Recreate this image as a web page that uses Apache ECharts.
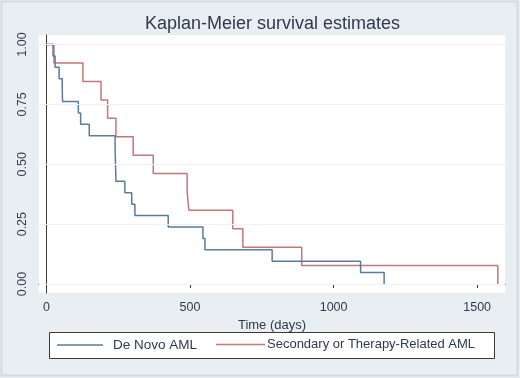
<!DOCTYPE html>
<html>
<head>
<meta charset="utf-8">
<script src="https://cdn.jsdelivr.net/npm/echarts@6/dist/echarts.min.js"></script>
<style>
html,body{margin:0;padding:0;background:#e9eef2;}
#c{width:520px;height:378px;}
</style>
</head>
<body>
<div id="c"></div>
<script>
// Kaplan-Meier step data: time (days) and survival after that time
const deNovoTimes = [0, 23, 30, 44, 55, 56, 111, 119, 149, 239, 240, 241, 242, 273, 297, 308, 424, 545, 552, 786, 1094, 1176];
const deNovoSurv  = [1.0, 0.952, 0.905, 0.857, 0.810, 0.762, 0.714, 0.667, 0.619, 0.571, 0.524, 0.476, 0.429, 0.381, 0.333, 0.286, 0.238, 0.190, 0.143, 0.095, 0.048, 0.0];
const secTimes = [0, 26, 127, 190, 213, 242, 302, 372, 490, 496, 649, 684, 889, 1572];
const secSurv  = [1.0, 0.923, 0.846, 0.769, 0.692, 0.615, 0.538, 0.462, 0.385, 0.308, 0.231, 0.154, 0.077, 0.0];
const xTicks = [0, 500, 1000, 1500];
const yTicks = [0, 0.25, 0.5, 0.75, 1.0];
const seriesNames = ['De Novo AML', 'Secondary or Therapy-Related AML'];
const titleText = 'Kaplan-Meier survival estimates';
const xTitle = 'Time (days)';

const pairs = (t, s) => t.map((v, i) => [v, s[i]]);
const font = 'Liberation Sans, Arial, sans-serif';
const textColor = '#2e3a4e';
const chart = echarts.init(document.getElementById('c'), null, {renderer: 'canvas'});
chart.setOption({
  backgroundColor: '#e9eef2',
  animation: false,
  title: {
    text: titleText, left: 145, top: 15, padding: 0,
    textStyle: {fontFamily: font, fontSize: 18, fontWeight: 'normal', color: textColor}
  },
  graphic: [
    {type: 'rect', shape: {x: 1.5, y: 1.5, width: 516, height: 374}, style: {fill: 'none', stroke: '#d3dbe2', lineWidth: 2}, silent: true},
    {type: 'rect', shape: {x: 49.5, y: 332.5, width: 445, height: 26}, style: {fill: '#ffffff', stroke: '#3a3a3a', lineWidth: 1}, silent: true, z: 0}
  ],
  legend: [
    {
      data: [seriesNames[0]], left: 57, top: 338, padding: 0,
      itemWidth: 46, itemHeight: 1.5, icon: 'rect',
      textStyle: {fontFamily: font, fontSize: 13.5, color: textColor, padding: [0, 0, 0, 5]},
      z: 10
    },
    {
      data: [seriesNames[1]], left: 216, top: 338, padding: 0,
      itemWidth: 49, itemHeight: 1.5, icon: 'rect',
      textStyle: {fontFamily: font, fontSize: 13, color: textColor, padding: [0, 0, 0, -3]},
      z: 10
    }
  ],
  grid: {left: 39, right: 15, top: 35, bottom: 85, show: true, backgroundColor: '#ffffff', borderWidth: 0},
  xAxis: {
    type: 'value', min: -26, max: 1597,
    name: xTitle, nameLocation: 'middle', nameGap: 25,
    nameTextStyle: {fontFamily: font, fontSize: 13, color: textColor},
    axisLine: {show: true, lineStyle: {color: '#3a3a3a', width: 1}},
    axisTick: {show: true, customValues: xTicks, length: 4, lineStyle: {color: '#3a3a3a'}},
    axisLabel: {customValues: xTicks, fontFamily: font, fontSize: 12.5, color: textColor, margin: 8,
      formatter: v => String(v)},
    splitLine: {show: false}
  },
  yAxis: {
    type: 'value', min: -0.0375, max: 1.04,
    axisLine: {show: true, lineStyle: {color: '#3a3a3a', width: 1}},
    axisTick: {show: true, customValues: yTicks, length: 4, lineStyle: {color: '#3a3a3a'}},
    axisLabel: {customValues: yTicks, rotate: 90, fontFamily: font, fontSize: 12.5, color: textColor, margin: 10,
      formatter: v => v.toFixed(2)},
    splitLine: {show: false}
  },
  series: [
    {
      name: seriesNames[0], type: 'line', step: 'end', symbol: 'none',
      data: pairs(deNovoTimes, deNovoSurv),
      lineStyle: {color: '#5a7b9c', width: 1.5}, itemStyle: {color: '#5a7b9c'},
      markLine: {
        silent: true, symbol: 'none', label: {show: false},
        lineStyle: {color: '#eef2f5', width: 1, type: 'solid'},
        data: yTicks.map(v => ({yAxis: v}))
      },
      z: 3
    },
    {
      name: seriesNames[1], type: 'line', step: 'end', symbol: 'none',
      data: pairs(secTimes, secSurv),
      lineStyle: {color: '#c4767a', width: 1.5}, itemStyle: {color: '#c4767a'},
      z: 2
    }
  ]
});
</script>
</body>
</html>
